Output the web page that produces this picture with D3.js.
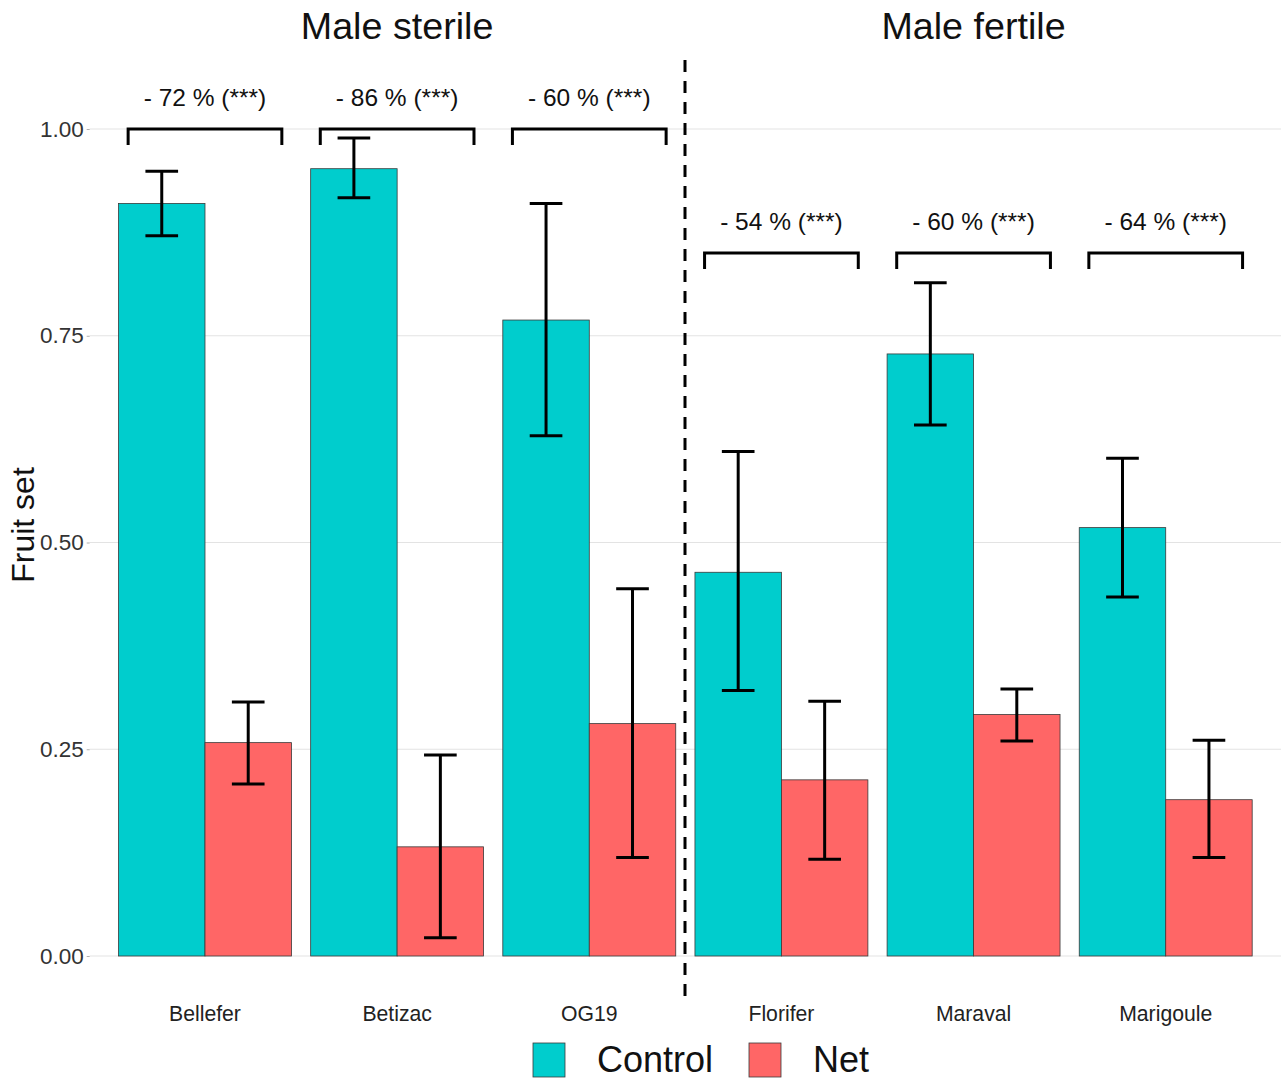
<!DOCTYPE html>
<html><head><meta charset="utf-8">
<script src="https://cdn.jsdelivr.net/npm/d3@7"></script>
<style>body{margin:0;background:#fff}svg{display:block}text{font-family:Arial,"Liberation Sans",sans-serif}</style>
</head><body>
<svg id="c" width="1281" height="1080"></svg>
<script>
const categories = ["Bellefer","Betizac","OG19","Florifer","Maraval","Marigoule"];
const groups = ["Male sterile","Male sterile","Male sterile","Male fertile","Male fertile","Male fertile"];
const treatments = ["Control","Net"];
const controlMean = [0.91, 0.952, 0.769, 0.464, 0.728, 0.518];
const controlLow  = [0.871, 0.917, 0.629, 0.321, 0.642, 0.434];
const controlHigh = [0.949, 0.989, 0.910, 0.610, 0.814, 0.602];
const netMean = [0.258, 0.132, 0.281, 0.213, 0.292, 0.189];
const netLow  = [0.208, 0.022, 0.119, 0.117, 0.260, 0.119];
const netHigh = [0.307, 0.243, 0.444, 0.308, 0.323, 0.261];
const reductionLabels = ["- 72 % (***)","- 86 % (***)","- 60 % (***)","- 54 % (***)","- 60 % (***)","- 64 % (***)"];
const bracketY = [1.0, 1.0, 1.0, 0.85, 0.85, 0.85];
const yTicks = [0, 0.25, 0.5, 0.75, 1.0];
const colors = {Control:"#00CDCD", Net:"#FF6666"};

const svg = d3.select("#c");
const left = 89.7, right = 1281;
const unit = (right-left)/6.2;
const x = d3.scaleLinear().domain([0.4, 6.6]).range([left, right]);
const y = d3.scaleLinear().domain([0, 1]).range([956, 129]);

// gridlines
svg.append("g").selectAll("line").data(yTicks).join("line")
  .attr("x1", left).attr("x2", right).attr("y1", d=>y(d)).attr("y2", d=>y(d))
  .attr("stroke","#e3e3e3").attr("stroke-width",1.1);

// y axis
const yAxis = d3.axisLeft(y).tickValues(yTicks).tickFormat(d3.format(".2f")).tickSize(3).tickPadding(3);
const ga = svg.append("g").attr("transform",`translate(${left},0)`).call(yAxis);
ga.select(".domain").remove();
ga.selectAll(".tick line").attr("stroke","#b0b0b0");
ga.selectAll(".tick text").attr("font-size",22.5).attr("fill","#333");

// bars
const bw = 0.45;
const rows = [];
categories.forEach((c,i)=>{
  rows.push({i, t:"Control", m:controlMean[i], lo:controlLow[i], hi:controlHigh[i], off:-bw/2});
  rows.push({i, t:"Net", m:netMean[i], lo:netLow[i], hi:netHigh[i], off:bw/2});
});
svg.append("g").selectAll("rect").data(rows).join("rect")
  .attr("x", d=>x(d.i+1+d.off-bw/2)).attr("width", x(bw)-x(0))
  .attr("y", d=>y(d.m)).attr("height", d=>y(0)-y(d.m))
  .attr("fill", d=>colors[d.t]).attr("stroke","#3a3a3a").attr("stroke-width",0.8);

// error bars
const eb = svg.append("g").attr("stroke","#000").attr("stroke-width",3).attr("fill","none");
rows.forEach(d=>{
  const cx = x(d.i+1+d.off), hw = 0.085*unit;
  eb.append("line").attr("x1",cx).attr("x2",cx).attr("y1",y(d.lo)).attr("y2",y(d.hi));
  eb.append("line").attr("x1",cx-hw).attr("x2",cx+hw).attr("y1",y(d.lo)).attr("y2",y(d.lo));
  eb.append("line").attr("x1",cx-hw).attr("x2",cx+hw).attr("y1",y(d.hi)).attr("y2",y(d.hi));
});

// brackets
const br = svg.append("g");
categories.forEach((c,i)=>{
  const x1 = x(i+1-0.4), x2 = x(i+1+0.4), yy = y(bracketY[i]);
  br.append("path").attr("d",`M${x1},${yy+16}V${yy}H${x2}V${yy+16}`)
    .attr("fill","none").attr("stroke","#000").attr("stroke-width",3);
  br.append("text").attr("x",x(i+1)).attr("y",yy-23).attr("text-anchor","middle")
    .attr("font-size",24.5).attr("fill","#111").text(reductionLabels[i]);
});

// x labels
svg.append("g").selectAll("text").data(categories).join("text")
  .attr("x",(d,i)=>x(i+1)).attr("y",1021).attr("text-anchor","middle")
  .attr("font-size",21.2).attr("fill","#222").text(d=>d);

// dashed separator
svg.append("line").attr("x1",685).attr("x2",685).attr("y1",60).attr("y2",1000)
  .attr("stroke","#000").attr("stroke-width",3).attr("stroke-dasharray","12,9");

// group titles
const gnames = Array.from(new Set(groups));
gnames.forEach(g=>{
  const idx = groups.map((v,i)=>v===g?i:-1).filter(i=>i>=0);
  const cx = (x(idx[0]+1)+x(idx[idx.length-1]+1))/2;
  svg.append("text").attr("x",cx).attr("y",39).attr("text-anchor","middle")
    .attr("font-size",37.7).attr("fill","#111").text(g);
});

// y label
svg.append("text").attr("transform","translate(34,525) rotate(-90)").attr("text-anchor","middle")
  .attr("font-size",32).attr("fill","#111").text("Fruit set");

// legend
const lg = svg.append("g");
const lx = [533, 749];
treatments.forEach((t,i)=>{
  lg.append("rect").attr("x",lx[i]).attr("y",1043).attr("width",32).attr("height",34)
    .attr("fill",colors[t]).attr("stroke","#3a3a3a").attr("stroke-width",0.8);
  lg.append("text").attr("x",lx[i]+64).attr("y",1072).attr("font-size",36).attr("fill","#111").text(t);
});
</script>
</body></html>
